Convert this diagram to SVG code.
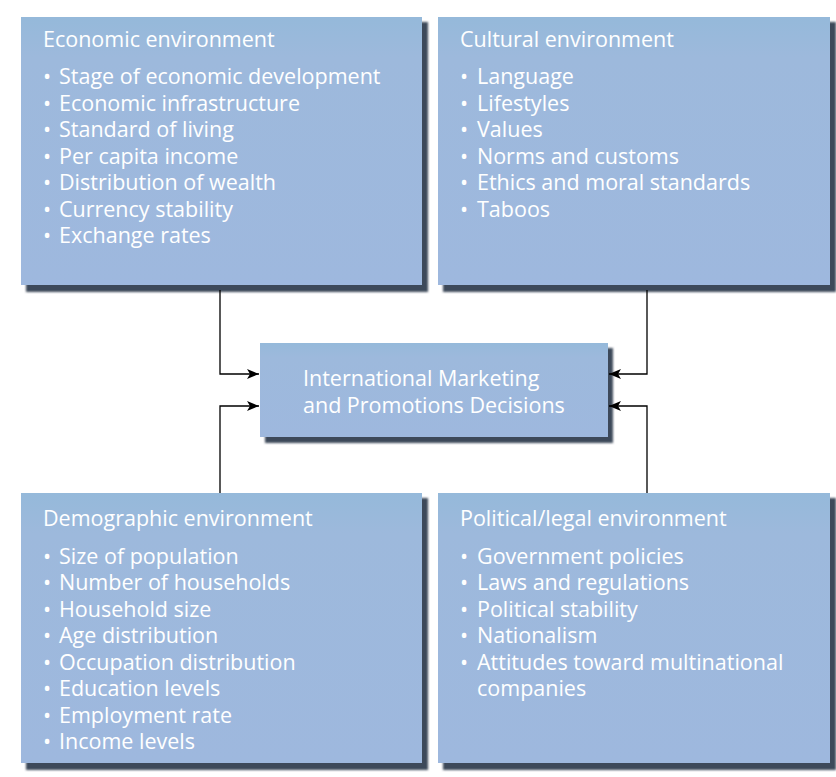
<svg xmlns="http://www.w3.org/2000/svg" width="836" height="777" viewBox="0 0 836 777">
  <defs>
    <linearGradient id="fillg" x1="0" y1="0" x2="0" y2="1">
      <stop offset="0" stop-color="#95b9da"/>
      <stop offset="0.15" stop-color="#9db9dc"/>
      <stop offset="1" stop-color="#9eb8de"/>
    </linearGradient>
    <filter id="sh" x="-5%" y="-5%" width="110%" height="110%">
      <feGaussianBlur stdDeviation="1.2"/>
    </filter>
    <marker id="arr" viewBox="0 0 12 10" refX="12" refY="5" markerWidth="12" markerHeight="10" markerUnits="userSpaceOnUse" orient="auto">
      <path d="M0,0 L12,5 L0,10 L3,5 Z" fill="#000"/>
    </marker>
    <style>
      .box { fill: url(#fillg); }
      .shadow { fill: #3c4a5a; filter: url(#sh); }
      .t { font-family: "Open Sans", "Noto Sans", "DejaVu Sans", sans-serif; font-size: 21.5px; fill: #ffffff; }
      .conn { fill: none; stroke: #000; stroke-width: 1.3; marker-end: url(#arr); }
    </style>
  </defs>
  <rect width="836" height="777" fill="#ffffff"/>

  <g id="economic">
    <rect class="shadow" x="26" y="22" width="402" height="270"/>
    <rect class="box" x="21" y="17" width="401" height="268"/>
    <text class="t" x="43" y="47">Economic environment</text>
    <text class="t" y="84"><tspan x="43">•</tspan><tspan x="59">Stage of economic development</tspan></text>
    <text class="t" y="110.5"><tspan x="43">•</tspan><tspan x="59">Economic infrastructure</tspan></text>
    <text class="t" y="137"><tspan x="43">•</tspan><tspan x="59">Standard of living</tspan></text>
    <text class="t" y="163.5"><tspan x="43">•</tspan><tspan x="59">Per capita income</tspan></text>
    <text class="t" y="190"><tspan x="43">•</tspan><tspan x="59">Distribution of wealth</tspan></text>
    <text class="t" y="216.5"><tspan x="43">•</tspan><tspan x="59">Currency stability</tspan></text>
    <text class="t" y="243"><tspan x="43">•</tspan><tspan x="59">Exchange rates</tspan></text>
  </g>

  <g id="cultural">
    <rect class="shadow" x="443" y="22" width="393" height="270"/>
    <rect class="box" x="438" y="17" width="392" height="268"/>
    <text class="t" x="460" y="47">Cultural environment</text>
    <text class="t" y="84"><tspan x="460">•</tspan><tspan x="477">Language</tspan></text>
    <text class="t" y="110.5"><tspan x="460">•</tspan><tspan x="477">Lifestyles</tspan></text>
    <text class="t" y="137"><tspan x="460">•</tspan><tspan x="477">Values</tspan></text>
    <text class="t" y="163.5"><tspan x="460">•</tspan><tspan x="477">Norms and customs</tspan></text>
    <text class="t" y="190"><tspan x="460">•</tspan><tspan x="477">Ethics and moral standards</tspan></text>
    <text class="t" y="216.5"><tspan x="460">•</tspan><tspan x="477">Taboos</tspan></text>
  </g>

  <g id="center">
    <rect class="shadow" x="265" y="348" width="348" height="95"/>
    <rect class="box" x="260" y="343" width="348" height="94"/>
    <text class="t"><tspan x="303" y="386">International Marketing</tspan><tspan x="303" y="413">and Promotions Decisions</tspan></text>
  </g>

  <g id="demographic">
    <rect class="shadow" x="26" y="498" width="402" height="272"/>
    <rect class="box" x="21" y="493" width="401" height="270"/>
    <text class="t" x="43" y="526">Demographic environment</text>
    <text class="t" y="563.5"><tspan x="43">•</tspan><tspan x="59">Size of population</tspan></text>
    <text class="t" y="590"><tspan x="43">•</tspan><tspan x="59">Number of households</tspan></text>
    <text class="t" y="616.5"><tspan x="43">•</tspan><tspan x="59">Household size</tspan></text>
    <text class="t" y="643"><tspan x="43">•</tspan><tspan x="59">Age distribution</tspan></text>
    <text class="t" y="669.5"><tspan x="43">•</tspan><tspan x="59">Occupation distribution</tspan></text>
    <text class="t" y="696"><tspan x="43">•</tspan><tspan x="59">Education levels</tspan></text>
    <text class="t" y="722.5"><tspan x="43">•</tspan><tspan x="59">Employment rate</tspan></text>
    <text class="t" y="749"><tspan x="43">•</tspan><tspan x="59">Income levels</tspan></text>
  </g>

  <g id="political">
    <rect class="shadow" x="443" y="498" width="393" height="272"/>
    <rect class="box" x="438" y="493" width="392" height="270"/>
    <text class="t" x="460" y="526">Political/legal environment</text>
    <text class="t" y="563.5"><tspan x="460">•</tspan><tspan x="477">Government policies</tspan></text>
    <text class="t" y="590"><tspan x="460">•</tspan><tspan x="477">Laws and regulations</tspan></text>
    <text class="t" y="616.5"><tspan x="460">•</tspan><tspan x="477">Political stability</tspan></text>
    <text class="t" y="643"><tspan x="460">•</tspan><tspan x="477">Nationalism</tspan></text>
    <text class="t"><tspan x="460" y="669.5">•</tspan><tspan x="477" y="669.5">Attitudes toward multinational</tspan><tspan x="477" y="696">companies</tspan></text>
  </g>

  <g id="connectors">
    <path class="conn" d="M220,290 V374 H259"/>
    <path class="conn" d="M220,493 V406 H259"/>
    <path class="conn" d="M647,290 V374 H609"/>
    <path class="conn" d="M647,493 V406 H609"/>
  </g>
</svg>
